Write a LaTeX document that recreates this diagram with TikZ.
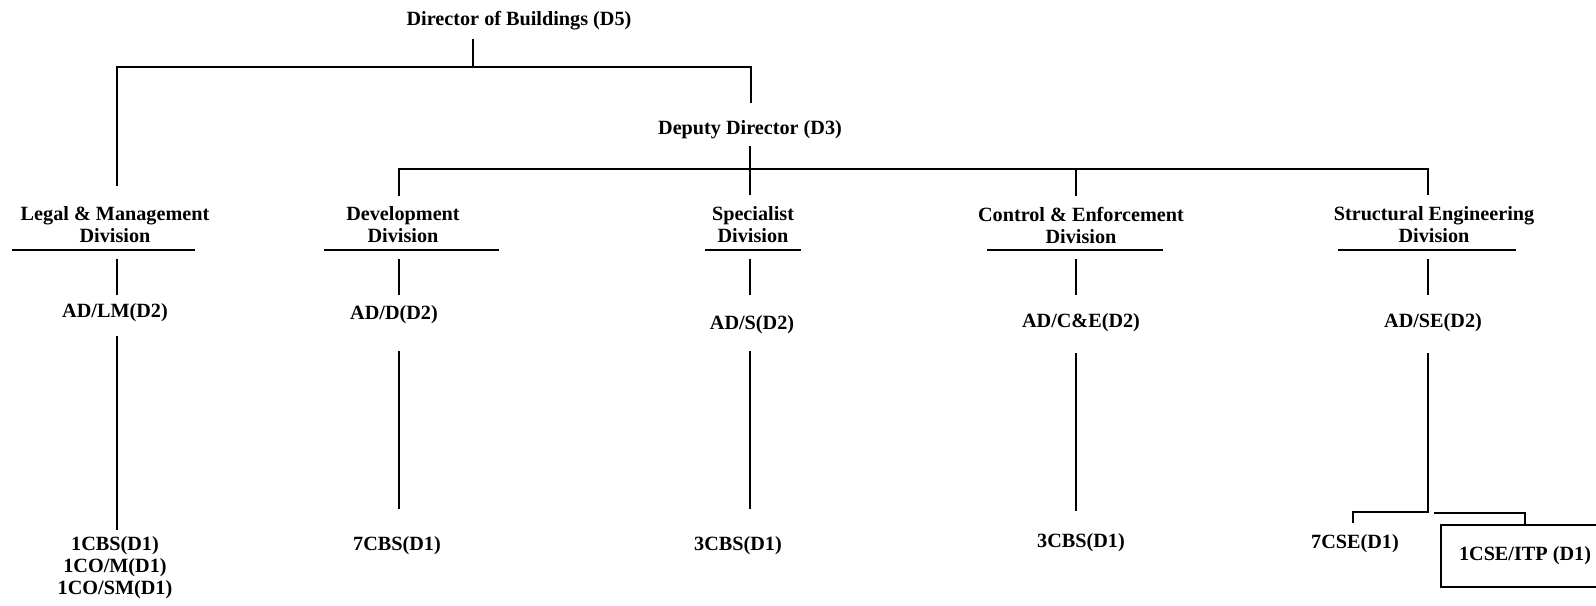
\documentclass[tikz,border=0pt]{standalone}
\usepackage{fontspec}
\setmainfont{Liberation Serif}
\usetikzlibrary{positioning}

\begin{document}
\begin{tikzpicture}[
	x=0.2mm, y=-0.2mm,
	post/.style={font=\fontsize{11.5}{12.5}\selectfont\bfseries, inner sep=0, align=center},
	wire/.style={line width=1.4pt},
	rule/.style={line width=1pt},
	itpbox/.style={post, draw, line width=1pt, minimum width=33.6mm, minimum height=12.4mm}
]
\useasboundingbox (0,0) rectangle (1596,605);
%top posts
\node[post] (dob) at (519,21) {Director of Buildings (D5)};
\node[post] (dd) at (750,130) {Deputy Director (D3)};

%divisions
\node[post] (lmdiv) at (115,225) {Legal \& Management\\Division};
\node[post] (ddiv) at (403,225) {Development\\Division};
\node[post] (sdiv) at (753,225) {Specialist\\Division};
\node[post] (cediv) at (1081,225) {Control \& Enforcement\\Division};
\node[post] (sediv) at (1434,225) {Structural Engineering\\Division};
\draw[rule] (12,250) -- (195,250);
\draw[rule] (324,250) -- (499,250);
\draw[rule] (705,250) -- (801,250);
\draw[rule] (987,250) -- (1163,250);
\draw[rule] (1338,250) -- (1516,250);

%assistant directors
\node[post] (adlm) at (115,313) {AD/LM(D2)};
\node[post] (add) at (394,315) {AD/D(D2)};
\node[post] (ads) at (752,325) {AD/S(D2)};
\node[post] (adce) at (1081,323) {AD/C\&E(D2)};
\node[post] (adse) at (1433,323) {AD/SE(D2)};

%staff
\node[post] (lmstaff) at (115,568) {1CBS(D1)\\1CO/M(D1)\\1CO/SM(D1)};
\node[post] (dstaff) at (397,546) {7CBS(D1)};
\node[post] (sstaff) at (738,546) {3CBS(D1)};
\node[post] (cestaff) at (1081,543) {3CBS(D1)};
\node[post] (sestaff) at (1355,544) {7CSE(D1)};
\node[itpbox] (itp) at (1525,556) {1CSE/ITP (D1)};

%line ends
\coordinate (dobstem) at (473,39);
\coordinate (lmtop) at (117,186);
\coordinate (ddtop) at (751,103);
\coordinate (ddstem) at (750,146);
\coordinate (stop) at (750,195);
\coordinate (dtop) at (399,196);
\coordinate (cetop) at (1076,196);
\coordinate (setop) at (1428,195);
\coordinate (lmA) at (117,259);
\coordinate (lmB) at (117,295);
\coordinate (lmC) at (117,336);
\coordinate (lmD) at (117,530);
\coordinate (dA) at (399,259);
\coordinate (dB) at (399,295);
\coordinate (dC) at (399,351);
\coordinate (dD) at (399,509);
\coordinate (sA) at (750,259);
\coordinate (sB) at (750,295);
\coordinate (sC) at (750,351);
\coordinate (sD) at (750,509);
\coordinate (ceA) at (1076,259);
\coordinate (ceB) at (1076,295);
\coordinate (ceC) at (1076,353);
\coordinate (ceD) at (1076,511);
\coordinate (seA) at (1428,259);
\coordinate (seB) at (1428,295);
\coordinate (seC) at (1428,353);
\coordinate (seD) at (1428,512);
\coordinate (seE) at (1434,513);
\coordinate (csetop) at (1353,523);

%connectors
\draw[wire] (dobstem) -- ++(0,28);
\draw[wire] (lmtop) -- ++(0,-119) -| (ddtop);
\draw[wire] (ddstem) -- (stop);
\draw[wire] (dtop) -- ++(0,-27) -| (setop);
\draw[wire] (cetop) -- ++(0,-27);
\draw[wire] (lmA) -- (lmB);
\draw[wire] (lmC) -- (lmD);
\draw[wire] (dA) -- (dB);
\draw[wire] (dC) -- (dD);
\draw[wire] (sA) -- (sB);
\draw[wire] (sC) -- (sD);
\draw[wire] (ceA) -- (ceB);
\draw[wire] (ceC) -- (ceD);
\draw[wire] (seA) -- (seB);
\draw[wire] (seC) -- (seD) -| (csetop);
\draw[wire] (seE) -| (itp.north);
\end{tikzpicture}
\end{document}
